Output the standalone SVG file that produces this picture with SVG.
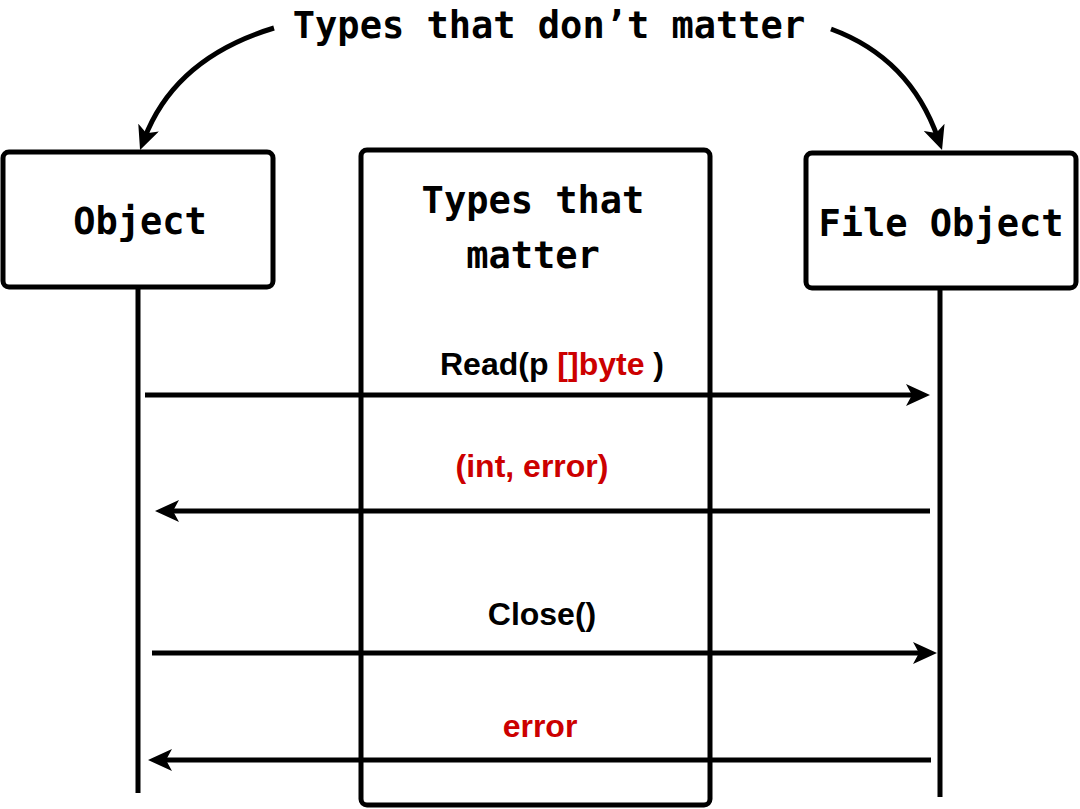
<svg xmlns="http://www.w3.org/2000/svg" width="1080" height="809" viewBox="0 0 1080 809">
  <defs>
    <style>
      .box { fill: #ffffff; stroke: #000000; stroke-width: 5; }
      .life { stroke: #000000; stroke-width: 5; fill: none; }
      .conn { stroke: #000000; stroke-width: 5; fill: none; marker-end: url(#arrow); }
      .mono { font-family: "DejaVu Sans Mono", "Liberation Mono", monospace; font-weight: bold; font-size: 37px; fill: #000000; text-anchor: middle; }
      .lbl { font-family: "Liberation Sans", Arial, sans-serif; font-weight: bold; font-size: 32px; fill: #000000; text-anchor: middle; }
      .red { fill: #cc0000; }
    </style>
    <marker id="arrow" viewBox="0 0 24 22" markerWidth="24" markerHeight="22" refX="12" refY="11" orient="auto" markerUnits="userSpaceOnUse">
      <path d="M0,0 L24,11 L0,22 L6,11 Z" fill="#000000"/>
    </marker>
  </defs>
  <rect width="1080" height="809" fill="#ffffff"/>

  <g id="title">
    <text class="mono" x="549" y="38">Types that don’t matter</text>
  </g>

  <g id="node-object">
    <rect class="box" x="3" y="152" width="270" height="135" rx="6"/>
    <text class="mono" x="140" y="234">Object</text>
  </g>

  <g id="node-middle">
    <rect class="box" x="361" y="150" width="349" height="655" rx="6"/>
    <text class="mono" x="533" y="213">Types that</text>
    <text class="mono" x="533" y="268">matter</text>
  </g>

  <g id="node-file">
    <rect class="box" x="806" y="153" width="270" height="135" rx="6"/>
    <text class="mono" x="941" y="236">File Object</text>
  </g>

  <g id="connectors">
    <line class="life" x1="138" y1="288" x2="138" y2="793"/>
    <line class="life" x1="940" y1="289" x2="940" y2="797"/>
    <path class="conn" d="M274,28 Q175,58 144.3,138.8"/>
    <path class="conn" d="M831,29 Q910,58 938.1,138.7"/>
    <line class="conn" x1="145" y1="395" x2="918" y2="395"/>
    <line class="conn" x1="930" y1="511" x2="167" y2="511"/>
    <line class="conn" x1="152" y1="653" x2="925" y2="653"/>
    <line class="conn" x1="931" y1="760" x2="160" y2="760"/>
  </g>

  <g id="labels">
    <text class="lbl" x="552" y="375">Read(p <tspan class="red">[]byte</tspan> )</text>
    <text class="lbl red" x="532" y="477">(int, error)</text>
    <text class="lbl" x="542" y="625">Close()</text>
    <text class="lbl red" x="540" y="737">error</text>
  </g>
</svg>
